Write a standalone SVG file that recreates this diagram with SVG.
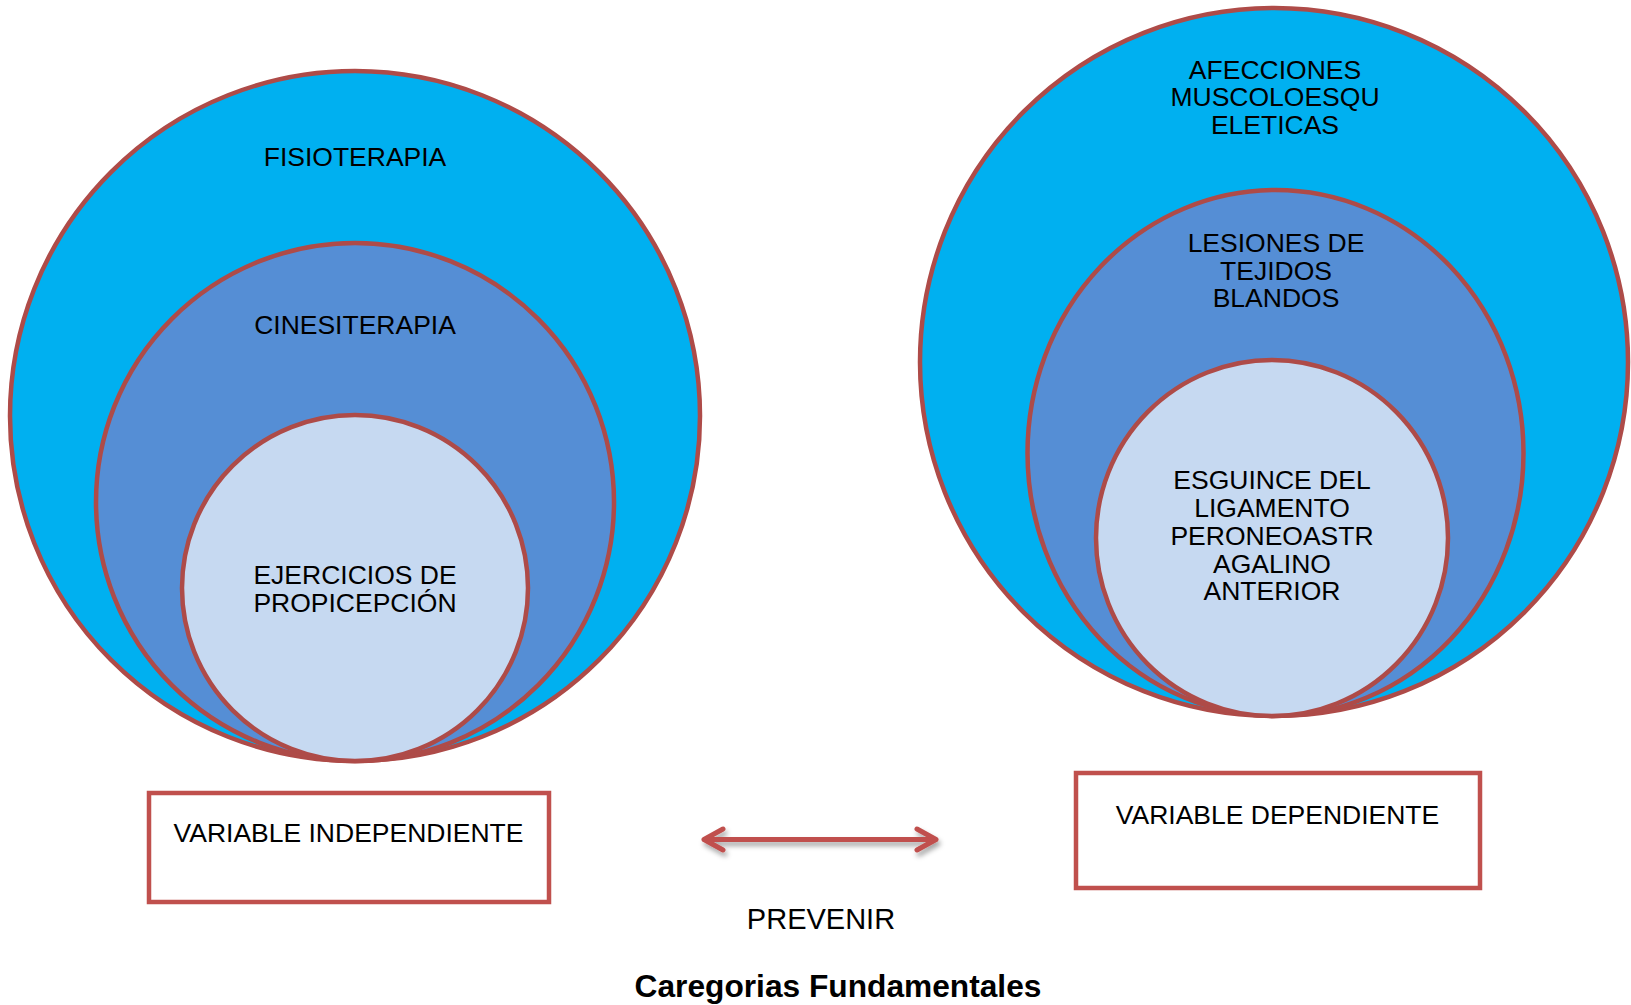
<svg xmlns="http://www.w3.org/2000/svg" width="1631" height="1005" viewBox="0 0 1631 1005">
<style>
.c1{fill:#00B0F0;stroke:#AE4B48;stroke-width:4.5}
.c2{fill:#558ED5;stroke:#AE4B48;stroke-width:4.5}
.c3{fill:#C6D9F1;stroke:#AE4B48;stroke-width:4.5}
.box{fill:#FFFFFF;stroke:#C0504D;stroke-width:4.5}
.t{font-family:"Liberation Sans",Arial,sans-serif;font-size:26.5px;fill:#000;text-anchor:middle}
.title{font-family:"Liberation Sans",Arial,sans-serif;font-size:31.7px;font-weight:bold;fill:#000;text-anchor:middle}
.arr{fill:none;stroke:#C0504D;stroke-width:5;stroke-linecap:round;stroke-linejoin:round}
</style>
<defs>
<filter id="sh" x="-10%" y="-50%" width="120%" height="250%">
<feDropShadow dx="2" dy="4" stdDeviation="2.5" flood-color="#000" flood-opacity="0.35"/>
</filter>
</defs>
<rect width="1631" height="1005" fill="#FFFFFF"/>
<g id="fisioterapia">
<circle class="c1" cx="355" cy="416" r="345"/>
<text class="t" x="355" y="166">FISIOTERAPIA</text>
</g>
<g id="cinesiterapia">
<circle class="c2" cx="355" cy="502" r="259"/>
<text class="t" x="355" y="334">CINESITERAPIA</text>
</g>
<g id="ejercicios">
<circle class="c3" cx="355" cy="588" r="173"/>
<text class="t" x="355" y="584">EJERCICIOS DE</text>
<text class="t" x="355" y="612">PROPICEPCIÓN</text>
</g>
<g id="afecciones">
<circle class="c1" cx="1274" cy="362" r="354"/>
<text class="t" x="1275" y="79">AFECCIONES</text>
<text class="t" x="1275" y="106">MUSCOLOESQU</text>
<text class="t" x="1275" y="134">ELETICAS</text>
</g>
<g id="lesiones">
<ellipse class="c2" cx="1275.5" cy="453" rx="248" ry="263"/>
<text class="t" x="1276" y="252">LESIONES DE</text>
<text class="t" x="1276" y="280">TEJIDOS</text>
<text class="t" x="1276" y="307">BLANDOS</text>
</g>
<g id="esguince">
<ellipse class="c3" cx="1272" cy="538" rx="176" ry="178"/>
<text class="t" x="1272" y="489">ESGUINCE DEL</text>
<text class="t" x="1272" y="517">LIGAMENTO</text>
<text class="t" x="1272" y="545">PERONEOASTR</text>
<text class="t" x="1272" y="573">AGALINO</text>
<text class="t" x="1272" y="600">ANTERIOR</text>
</g>
<g id="variable-independiente">
<rect class="box" x="149" y="793" width="400" height="109"/>
<text class="t" x="348.5" y="842">VARIABLE INDEPENDIENTE</text>
</g>
<g id="variable-dependiente">
<rect class="box" x="1076" y="773" width="404" height="115"/>
<text class="t" x="1277.5" y="824">VARIABLE DEPENDIENTE</text>
</g>
<g id="connectors">
<g filter="url(#sh)">
<path class="arr" d="M704 839.5 H936 M723 829 L704 839.5 L723 850 M917 829 L936 839.5 L917 850"/>
</g>
</g>
<g id="labels">
<text class="t" x="821" y="929" style="font-size:29px">PREVENIR</text>
<text class="title" x="838" y="997">Caregorias Fundamentales</text>
</g>
</svg>
